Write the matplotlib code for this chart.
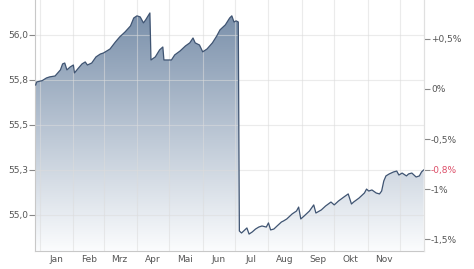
import numpy as np
import matplotlib
matplotlib.use("Agg")
import matplotlib.pyplot as plt
import matplotlib.dates as mdates
from matplotlib.patches import Polygon

# price history, days counted from 1 Jan 2023
days = [-4, -3, 2, 6, 9, 14, 19, 21, 23, 25, 28, 31, 32, 35, 39, 42, 44, 48,
        52, 56, 59, 65, 70, 74, 79, 84, 87, 90, 93, 96, 98, 102, 103, 107, 111,
        114, 115, 119, 122, 125, 130, 135, 139, 142, 144, 148, 151, 155, 160,
        164, 167, 172, 176, 178, 180, 182, 184, 185, 187, 189, 192, 194, 197,
        200, 203, 206, 210, 212, 214, 217, 220, 224, 226, 229, 234, 238, 240,
        242, 245, 250, 254, 256, 261, 265, 270, 273, 277, 282, 286, 289, 291,
        296, 301, 303, 305, 308, 312, 315, 317, 319, 321, 324, 328, 331, 333,
        336, 340, 342, 345, 349, 352, 354, 356]
prices = [55.722, 55.739, 55.746, 55.761, 55.767, 55.772, 55.806, 55.839,
          55.844, 55.806, 55.822, 55.833, 55.789, 55.811, 55.839, 55.850,
          55.833, 55.844, 55.878, 55.894, 55.900, 55.922, 55.961, 55.989,
          56.017, 56.050, 56.094, 56.106, 56.100, 56.067, 56.083, 56.122,
          55.861, 55.878, 55.917, 55.933, 55.861, 55.861, 55.861, 55.889,
          55.911, 55.939, 55.956, 55.983, 55.956, 55.944, 55.906, 55.922,
          55.956, 55.994, 56.028, 56.056, 56.094, 56.106, 56.072, 56.078,
          56.072, 54.911, 54.900, 54.911, 54.928, 54.894, 54.906, 54.922,
          54.933, 54.939, 54.933, 54.956, 54.917, 54.922, 54.939, 54.961,
          54.967, 54.978, 55.006, 55.022, 55.044, 54.978, 54.994, 55.022,
          55.056, 55.011, 55.028, 55.050, 55.072, 55.056, 55.078, 55.100,
          55.117, 55.061, 55.072, 55.094, 55.122, 55.144, 55.133, 55.139,
          55.122, 55.117, 55.133, 55.189, 55.217, 55.228, 55.239, 55.244,
          55.222, 55.233, 55.217, 55.228, 55.233, 55.211, 55.217, 55.239,
          55.250]
base_price = 55.70

month_labels = ["Jan", "Feb", "Mrz", "Apr", "Mai", "Jun",
                "Jul", "Aug", "Sep", "Okt", "Nov"]
left_ticks = [55.0, 55.25, 55.5, 55.75, 56.0]
left_labels = ["55,0", "55,3", "55,5", "55,8", "56,0"]
pct_ticks = [-1.5, -1.0, -0.5, 0.0, 0.5]
pct_labels = ["-1,5%", "-1%", "-0,5%", "0%", "+0,5%"]
last_label = "-0,8%"

TXT = "#555555"
GRID = "#dcdcdc"
FS = 6.5

t0 = mdates.date2num(np.datetime64("2023-01-01"))
x = t0 + np.array(days, dtype=float)
y = np.array(prices)
xmin, xmax = t0 - 4.6, t0 + 356.3
ymin, ymax = 54.8, 56.194

fig = plt.figure(figsize=(4.74, 2.69), dpi=100)
ax = fig.add_axes([35 / 474, 1 - 251 / 269, 389 / 474, 251 / 269])
ax.set_xlim(xmin, xmax)
ax.set_ylim(ymin, ymax)

# gradient fill clipped to the area under the line
top = np.array([0.45, 0.54, 0.65])
bot = np.array([0.985, 0.99, 0.995])
f = np.linspace(0, 1, 256)[:, None]
grad = (top * (1 - f) + bot * f)[:, None, :]
im = ax.imshow(grad, extent=[xmin, xmax, ymin, ymax], aspect="auto",
               origin="upper", zorder=1)
px = np.concatenate([[x[0]], x, [x[-1]]])
py = np.concatenate([[ymin], y, [ymin]])
poly = Polygon(np.column_stack([px, py]), closed=True, transform=ax.transData,
               facecolor="none", edgecolor="none")
ax.add_patch(poly)
im.set_clip_path(poly)

ax.plot(x, y, color="#3f5472", lw=0.9, zorder=3)

# grid: months start on major ticks, labels sit mid-month
month_starts = t0 + np.array([0, 31, 59, 90, 120, 151, 181, 212, 243, 273, 304, 334])
ax.set_xticks(month_starts)
ax.set_xticklabels([])
ax.tick_params(axis="x", length=0)
ax.set_xticks(month_starts[:11] + 15, minor=True)
ax.set_xticklabels(month_labels, minor=True)
ax.tick_params(axis="x", which="minor", length=0, pad=3, labelsize=FS, labelcolor=TXT)
ax.set_yticks(left_ticks)
ax.set_yticklabels(left_labels)
ax.tick_params(axis="y", length=4, width=0.8, color="#888888", pad=1,
               labelsize=FS, labelcolor=TXT)
ax.grid(True, which="major", color=GRID, lw=0.8)
for gl in ax.get_xgridlines() + ax.get_ygridlines():
    gl.set_zorder(2)
    gl.set_alpha(0.55)

ax.spines["top"].set_visible(False)
ax.spines["left"].set_color("#c8c8c8")
ax.spines["bottom"].set_color("#c8c8c8")
ax.spines["right"].set_color("#e0e0e0")

# right axis in percent vs. base
ax2 = ax.twinx()
ax2.set_ylim((ymin / base_price - 1) * 100, (ymax / base_price - 1) * 100)
last_pct = (prices[-1] / base_price - 1) * 100
ax2.set_yticks(pct_ticks + [last_pct])
ax2.set_yticklabels(pct_labels + [last_label])
ax2.tick_params(axis="y", length=4, width=0.8, color="#888888", pad=1,
                labelsize=FS, labelcolor=TXT)
ax2.get_yticklabels()[-1].set_color("#dc4e68")
for s in ["top", "left", "bottom"]:
    ax2.spines[s].set_visible(False)
ax2.spines["right"].set_color("#e0e0e0")

fig.savefig("out.png", dpi=100)
